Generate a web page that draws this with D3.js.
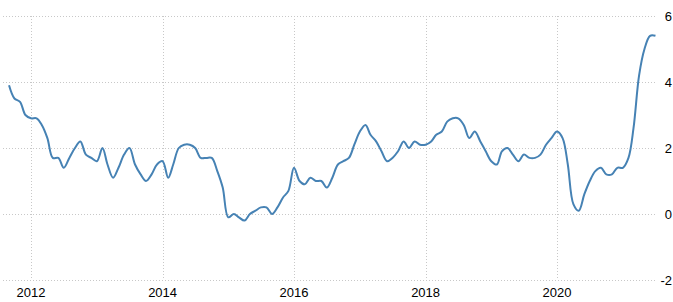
<!DOCTYPE html>
<html>
<head>
<meta charset="utf-8">
<script src="https://cdn.jsdelivr.net/npm/d3@7"></script>
<style>
  body { margin: 0; background: #fff; }
  .tick-label { font-family: "Liberation Sans Narrow", "Liberation Sans", Arial, sans-serif; font-size: 13px; fill: #000; }
</style>
</head>
<body>
<svg id="chart" width="673" height="302"></svg>
<script>
// monthly values, Sep 2011 .. Jul 2021
const startMonth = new Date(2011, 8, 1);
const values = [
  3.9, 3.5, 3.4, 3.0,
  2.9, 2.9, 2.7, 2.3, 1.7, 1.7, 1.4, 1.7, 2.0, 2.2, 1.8, 1.7,
  1.6, 2.0, 1.5, 1.1, 1.4, 1.8, 2.0, 1.5, 1.2, 1.0, 1.2, 1.5,
  1.6, 1.1, 1.5, 2.0, 2.1, 2.1, 2.0, 1.7, 1.7, 1.7, 1.3, 0.8,
  -0.1, 0.0, -0.1, -0.2, 0.0, 0.1, 0.2, 0.2, 0.0, 0.2, 0.5, 0.7,
  1.4, 1.0, 0.9, 1.1, 1.0, 1.0, 0.8, 1.1, 1.5, 1.6, 1.7, 2.1,
  2.5, 2.7, 2.4, 2.2, 1.9, 1.6, 1.7, 1.9, 2.2, 2.0, 2.2, 2.1,
  2.1, 2.2, 2.4, 2.5, 2.8, 2.9, 2.9, 2.7, 2.3, 2.5, 2.2, 1.9,
  1.6, 1.5, 1.9, 2.0, 1.8, 1.6, 1.8, 1.7, 1.7, 1.8, 2.1, 2.3,
  2.5, 2.3, 1.5, 0.3, 0.1, 0.6, 1.0, 1.3, 1.4, 1.2, 1.2, 1.4,
  1.4, 1.7, 2.6, 4.2, 5.0, 5.4, 5.4
];
const yTicks = [6, 4, 2, 0, -2];
const xTickYears = [2012, 2014, 2016, 2018, 2020];

const data = values.map((v, i) => ({
  date: new Date(startMonth.getFullYear(), startMonth.getMonth() + i, 1),
  value: v
}));

const svg = d3.select("#chart");

const x = d3.scaleTime()
  .domain([new Date(2012, 0, 1), new Date(2020, 0, 1)])
  .range([31, 557]);

const y = d3.scaleLinear()
  .domain([-2, 6])
  .range([280, 16]);

const gridLeft = 3, gridRight = 657;

// horizontal grid
svg.append("g")
  .selectAll("line")
  .data(yTicks)
  .join("line")
  .attr("x1", gridLeft)
  .attr("x2", gridRight)
  .attr("y1", d => Math.round(y(d)) + 0.5)
  .attr("y2", d => Math.round(y(d)) + 0.5)
  .attr("stroke", "#c8c8c8")
  .attr("stroke-dasharray", "1,2");

// vertical grid
svg.append("g")
  .selectAll("line")
  .data(xTickYears)
  .join("line")
  .attr("x1", d => Math.round(x(new Date(d, 0, 1))) + 0.5)
  .attr("x2", d => Math.round(x(new Date(d, 0, 1))) + 0.5)
  .attr("y1", y(6))
  .attr("y2", y(-2))
  .attr("stroke", "#c8c8c8")
  .attr("stroke-dasharray", "1,2");

// y labels on right
svg.append("g")
  .selectAll("text")
  .data(yTicks)
  .join("text")
  .attr("class", "tick-label")
  .attr("x", 672)
  .attr("y", d => y(d))
  .attr("dy", "0.35em")
  .attr("text-anchor", "end")
  .text(d => d);

// x labels
svg.append("g")
  .selectAll("text")
  .data(xTickYears)
  .join("text")
  .attr("class", "tick-label")
  .attr("x", d => x(new Date(d, 0, 1)))
  .attr("y", 297)
  .attr("text-anchor", "middle")
  .text(d => d);

const line = d3.line()
  .x(d => x(d.date))
  .y(d => y(d.value))
  .curve(d3.curveCatmullRom.alpha(0.5));

svg.append("path")
  .datum(data)
  .attr("d", line)
  .attr("fill", "none")
  .attr("stroke", "#4682b4")
  .attr("stroke-width", 2);
</script>
</body>
</html>
